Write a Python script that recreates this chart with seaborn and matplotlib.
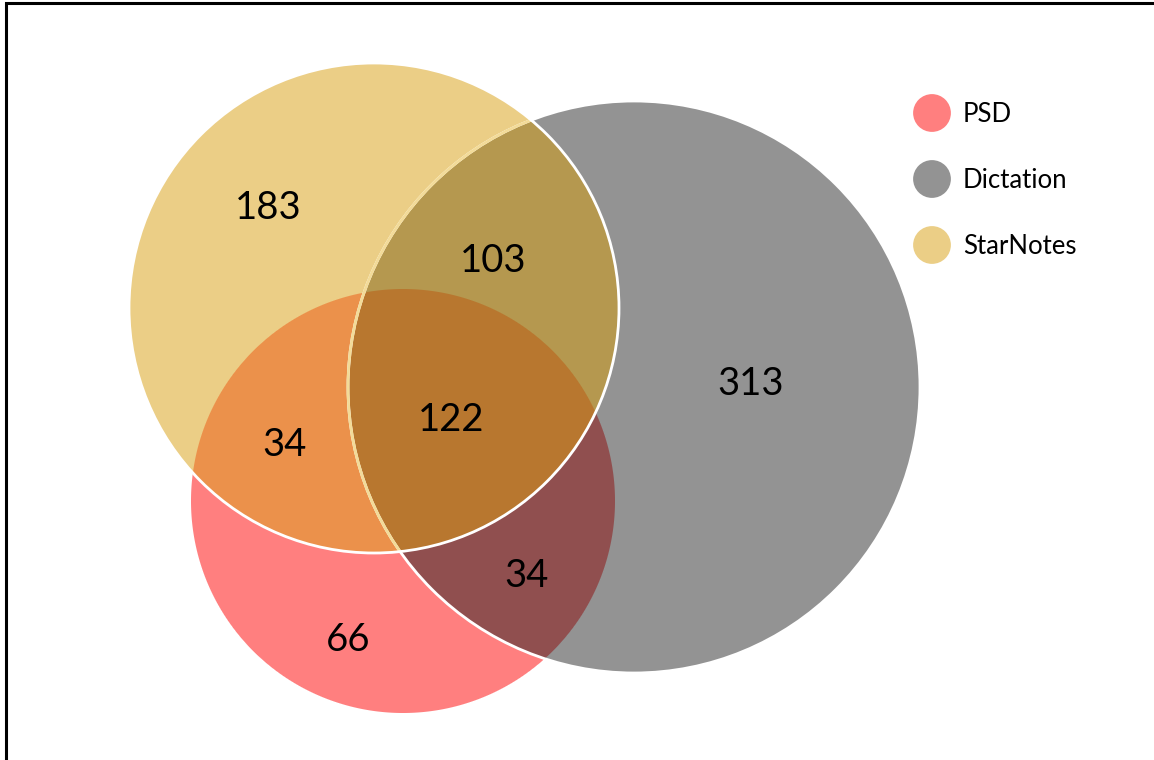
import numpy as np
import matplotlib
matplotlib.use("Agg")
import matplotlib.pyplot as plt
from matplotlib.patches import Circle
import seaborn as sns

# ---- data -------------------------------------------------------------
sets = ["PSD", "Dictation", "StarNotes"]
set_colors = ["#FF7F7F", "#939393", "#EBCE86"]

# regions keyed by membership flags (PSD, Dictation, StarNotes)
region_keys = ["100", "010", "001", "110", "101", "011", "111"]
region_counts = [66, 313, 183, 34, 34, 103, 122]
region_colors = ["#FF7F7F", "#939393", "#EBCE86", "#904F4F",
                 "#EB914B", "#B5984F", "#B8772F"]

# ---- layout (pixel space of the canvas) --------------------------------
W, H = 1154, 760
centers = [(403, 501), (634, 387), (374, 308)]
radii = [212, 286, 245]
label_xy = {"100": (348, 640), "010": (751, 384), "001": (268, 208),
            "110": (527, 576), "101": (285, 445), "011": (493, 261),
            "111": (451, 420)}

sns.set_theme(style="white")
plt.rcParams["font.family"] = ["Lato", "DejaVu Sans"]

fig = plt.figure(figsize=(W / 100, H / 100), dpi=100)
ax = fig.add_axes([0, 0, 1, 1])
ax.set_xlim(0, W)
ax.set_ylim(H, 0)
ax.axis("off")

# ---- region fills with anti-aliased coverage ---------------------------
yy, xx = np.mgrid[0:H, 0:W] + 0.5
cov = [np.clip(r - np.hypot(xx - cx, yy - cy) + 0.5, 0, 1)
       for (cx, cy), r in zip(centers, radii)]

color_of = {"000": "#FFFFFF"}
color_of.update(dict(zip(region_keys, region_colors)))

img = np.zeros((H, W, 3))
for key, hexcol in color_of.items():
    w = np.ones((H, W))
    for flag, c in zip(key, cov):
        w *= c if flag == "1" else (1 - c)
    img += w[..., None] * np.array(matplotlib.colors.to_rgb(hexcol))

ax.imshow(img, extent=(0, W, H, 0), origin="upper", interpolation="nearest",
          zorder=1)

# ---- circle outlines ---------------------------------------------------
dict_c, star_c = centers[1], centers[2]
ax.add_patch(Circle(dict_c, radii[1], fill=False, ec="white", lw=2, zorder=2))
inner = Circle(dict_c, radii[1], fill=False, ec="#F3DB98", lw=2, zorder=3)
ax.add_patch(inner)
inner.set_clip_path(Circle(star_c, radii[2], transform=ax.transData))
ax.add_patch(Circle(star_c, radii[2], fill=False, ec="white", lw=2, zorder=4))

# ---- region counts -----------------------------------------------------
for key, n in zip(region_keys, region_counts):
    x, y = label_xy[key]
    ax.text(x, y, str(n), ha="center", va="center", fontsize=27.5,
            color="black", zorder=5)

# ---- legend ------------------------------------------------------------
for i, (name, col) in enumerate(zip(sets, set_colors)):
    y = 113 + i * 66
    ax.scatter([932], [y], s=740, color=col, edgecolor="none", zorder=5)
    ax.text(963, y + 2, name, ha="left", va="center", fontsize=18.5,
            color="black", zorder=5)

# ---- frame lines -------------------------------------------------------
ax.plot([6, 6, W], [H, 3, 3], color="black", lw=2.2,
        solid_joinstyle="miter", zorder=6)

fig.savefig("out.png", dpi=100)
